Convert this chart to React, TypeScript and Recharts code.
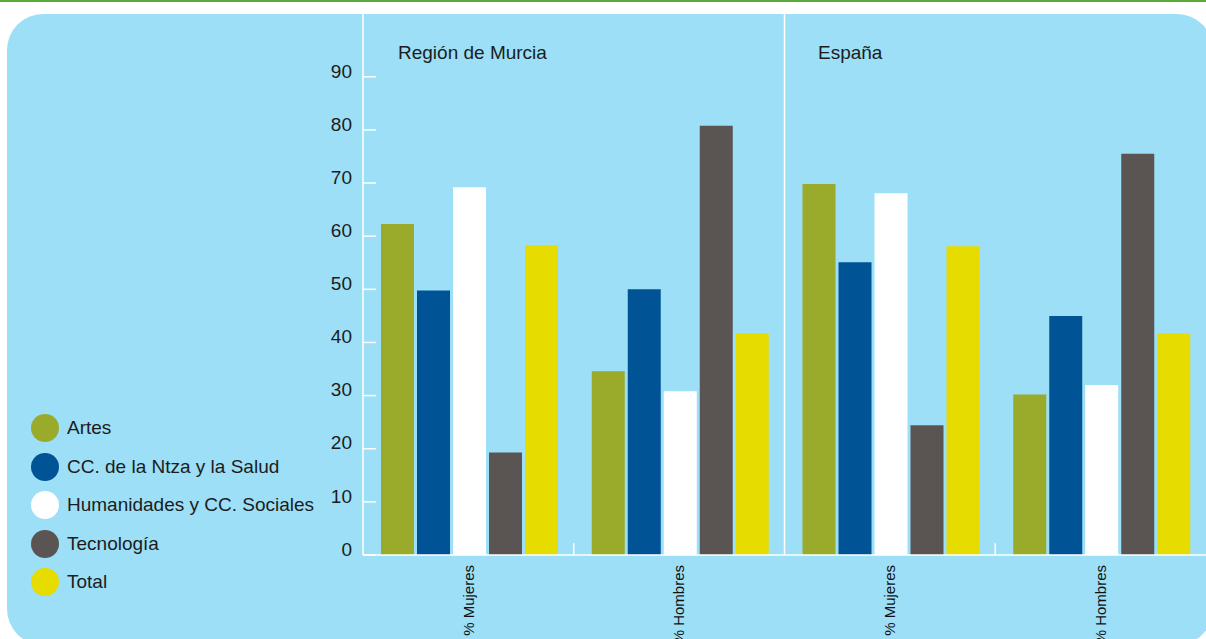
import { BarChart, Bar, XAxis, YAxis, Legend, ReferenceLine } from "recharts";

// categories: region + sex
const categories = ["Murcia-M", "Murcia-H", "España-M", "España-H"];
const categoryLabels = ["% Mujeres", "% Hombres", "% Mujeres", "% Hombres"];
const panelTitles = ["Región de Murcia", "España"];

// values (%)
const artes = [62.3, 34.6, 69.8, 30.2];
const ciencias = [49.8, 50.0, 55.1, 45.0];
const humanidades = [69.2, 30.8, 68.1, 32.0];
const tecnologia = [19.3, 80.8, 24.4, 75.5];
const total = [58.3, 41.7, 58.1, 41.7];

const seriesNames = [
  "Artes",
  "CC. de la Ntza y la Salud",
  "Humanidades y CC. Sociales",
  "Tecnología",
  "Total",
];
const yTicks = [0, 10, 20, 30, 40, 50, 60, 70, 80, 90];

const seriesColors = ["#9aaa2b", "#005395", "#ffffff", "#5a5552", "#e6dc00"];
const FONT = "'Liberation Sans', Arial, sans-serif";
const TEXT = "#1c1c1c";

const data = categories.map((c, i) => ({
  cat: c,
  artes: artes[i],
  ciencias: ciencias[i],
  humanidades: humanidades[i],
  tecnologia: tecnologia[i],
  total: total[i],
}));
const keys = ["artes", "ciencias", "humanidades", "tecnologia", "total"];

const YTick = (props: any) => {
  const { x, y, payload } = props;
  return (
    <text x={x} y={y - 6} dy="0.355em" textAnchor="end" fill={TEXT} fontSize={19} fontFamily={FONT}>
      {payload.value}
    </text>
  );
};

const XTick = (props: any) => {
  const { x, y, payload } = props;
  const label = categoryLabels[categories.indexOf(payload.value)];
  return (
    <text
      x={x}
      y={y}
      dy="0.35em"
      textAnchor="end"
      transform={`rotate(-90, ${x}, ${y})`}
      fill="#111"
      fontSize={15}
      fontFamily={FONT}
    >
      {label}
    </text>
  );
};

const LegendContent = (props: any) => {
  const { payload } = props;
  return (
    <div style={{ fontFamily: FONT }}>
      {(payload || []).map((p: any) => (
        <div key={p.value} style={{ display: "flex", alignItems: "center", height: 38.5 }}>
          <span
            style={{
              width: 28,
              height: 28,
              borderRadius: "50%",
              background: p.color,
              display: "inline-block",
              marginRight: 8,
            }}
          />
          <span style={{ fontSize: 19, color: TEXT, whiteSpace: "nowrap" }}>{p.value}</span>
        </div>
      ))}
    </div>
  );
};

export default function App() {
  return (
    <div
      style={{
        position: "absolute",
        left: 0,
        top: 0,
        width: 1206,
        height: 639,
        background: "#ffffff",
        overflow: "hidden",
        fontFamily: FONT,
      }}
    >
      <div style={{ position: "absolute", left: 0, top: 0, width: 1206, height: 2, background: "#5aaa3a" }} />
      <div
        style={{
          position: "absolute",
          left: 7,
          top: 14,
          width: 1206,
          height: 631,
          borderRadius: 36,
          background: "#9cdff6",
        }}
      />
      <div style={{ position: "absolute", left: 0, top: 0 }}>
        <BarChart
          width={1206}
          height={639}
          data={data}
          margin={{ top: 13, right: 0, left: 0, bottom: 0 }}
          barCategoryGap={18}
          barGap={3}
        >
          <YAxis
            type="number"
            domain={[0, 102]}
            ticks={yTicks}
            width={363}
            axisLine={{ stroke: "#ffffff", strokeWidth: 1.5 }}
            tickLine={{ stroke: "#ffffff", strokeWidth: 1.5 }}
            tickSize={-13}
            tickMargin={24}
            tick={YTick}
            interval={0}
          />
          <XAxis
            dataKey="cat"
            height={84}
            axisLine={{ stroke: "#ffffff", strokeWidth: 1.5 }}
            tickLine={false}
            tickMargin={4}
            tick={XTick}
            interval={0}
          />
          {keys.map((k, i) => (
            <Bar key={k} dataKey={k} name={seriesNames[i]} fill={seriesColors[i]} isAnimationActive={false} />
          ))}
          <ReferenceLine x={categories[2]} position="start" stroke="#ffffff" strokeWidth={1.5} />
          <ReferenceLine
            segment={[
              { x: categories[1], y: 0 },
              { x: categories[1], y: 2.2 },
            ]}
            position="start"
            stroke="#ffffff"
            strokeWidth={1.5}
          />
          <ReferenceLine
            segment={[
              { x: categories[3], y: 0 },
              { x: categories[3], y: 2.2 },
            ]}
            position="start"
            stroke="#ffffff"
            strokeWidth={1.5}
          />
          <Legend
            layout="vertical"
            align="center"
            verticalAlign="middle"
            content={LegendContent}
            wrapperStyle={{ left: 31, top: 409, width: 300 }}
          />
        </BarChart>
      </div>
      <div style={{ position: "absolute", left: 398, top: 42, fontSize: 19, color: TEXT, whiteSpace: "nowrap" }}>
        {panelTitles[0]}
      </div>
      <div style={{ position: "absolute", left: 818, top: 42, fontSize: 19, color: TEXT, whiteSpace: "nowrap" }}>
        {panelTitles[1]}
      </div>
    </div>
  );
}
